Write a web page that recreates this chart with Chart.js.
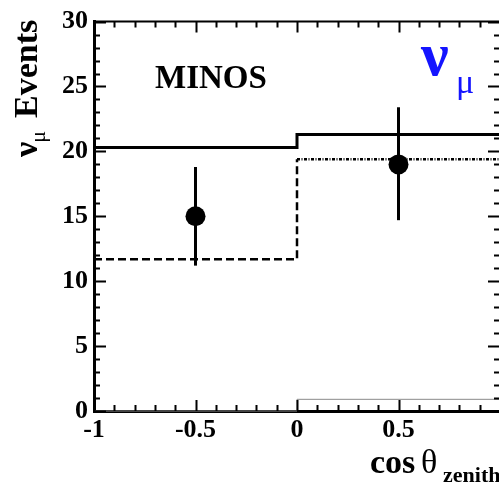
<!DOCTYPE html>
<html>
<head>
<meta charset="utf-8">
<script src="https://cdn.jsdelivr.net/npm/chart.js@4"></script>
<style>
html, body { margin: 0; padding: 0; background: #fff; overflow: hidden; }
</style>
</head>
<body>
<canvas id="c" width="510" height="485"></canvas>
<script>
// histogram bins (cos theta_zenith)
const binEdges = [-1, 0, 1];
const solidCounts = [20.3, 21.3];
const dashedCounts = [11.7, 19.4];
const greyCounts = [0, 0.9];

// data points with errors
const dataX = [-0.5, 0.5];
const dataY = [15, 19];
const errLow = [11.2, 14.7];
const errHigh = [18.8, 23.4];

const xTicks = [-1, -0.5, 0, 0.5, 1];
const yTicks = [0, 5, 10, 15, 20, 25, 30];

const SERIF = "'Liberation Serif', 'DejaVu Serif', serif";

function stepData(counts) {
    const pts = counts.map((c, i) => ({ x: binEdges[i], y: c }));
    pts.push({ x: binEdges[binEdges.length - 1], y: counts[counts.length - 1] });
    return pts;
}

const framePlugin = {
    id: "frame",
    beforeDatasetsDraw(chart) {
        const { ctx } = chart;
        const xs = chart.scales.x, ys = chart.scales.y;
        ctx.save();
        ctx.strokeStyle = "#000";
        ctx.lineWidth = 3;
        dataX.forEach((x, i) => {
            const px = xs.getPixelForValue(x);
            ctx.beginPath();
            ctx.moveTo(px, ys.getPixelForValue(errLow[i]));
            ctx.lineTo(px, ys.getPixelForValue(errHigh[i]));
            ctx.stroke();
        });
        ctx.restore();
    },
    afterDraw(chart) {
        const { ctx, chartArea: a } = chart;
        const xs = chart.scales.x, ys = chart.scales.y;
        ctx.save();
        ctx.strokeStyle = "#000";

        // top and right frame
        ctx.lineWidth = 2;
        ctx.beginPath();
        ctx.moveTo(a.left, a.top);
        ctx.lineTo(a.right, a.top);
        ctx.lineTo(a.right, a.bottom);
        ctx.stroke();

        // inward ticks
        ctx.lineWidth = 2;
        for (let i = 0; i <= 30; i++) {
            const py = Math.round(ys.getPixelForValue(i)) + 0.5;
            const len = i % 5 === 0 ? 12 : 6;
            ctx.beginPath();
            ctx.moveTo(a.left, py); ctx.lineTo(a.left + len, py);
            ctx.moveTo(a.right, py); ctx.lineTo(a.right - len, py);
            ctx.stroke();
        }
        for (let i = -10; i <= 10; i++) {
            const px = Math.round(xs.getPixelForValue(i / 10)) + 0.5;
            const len = i % 5 === 0 ? 11 : 6;
            ctx.beginPath();
            ctx.moveTo(px, a.bottom); ctx.lineTo(px, a.bottom - len);
            ctx.moveTo(px, a.top); ctx.lineTo(px, a.top + len);
            ctx.stroke();
        }

        // MINOS label
        ctx.fillStyle = "#000";
        ctx.font = "bold 33px " + SERIF;
        ctx.textAlign = "left";
        ctx.textBaseline = "alphabetic";
        ctx.fillText("MINOS", 155, 88);

        // nu_mu label
        ctx.fillStyle = "#1414ff";
        ctx.font = "bold 62px " + SERIF;
        ctx.fillText("ν", 421, 75);
        ctx.font = "34px " + SERIF;
        ctx.fillText("μ", 456, 93);

        // y title (rotated)
        ctx.fillStyle = "#000";
        ctx.save();
        ctx.translate(37, 157);
        ctx.rotate(-Math.PI / 2);
        ctx.font = "bold 34px " + SERIF;
        ctx.fillText("ν", 0, 0);
        let w = ctx.measureText("ν").width;
        ctx.font = "22px " + SERIF;
        ctx.fillText("μ", w - 1, 8);
        ctx.font = "bold 34px " + SERIF;
        ctx.fillText("Events", 39, 0);
        ctx.restore();

        // x title
        ctx.font = "bold 34px " + SERIF;
        ctx.fillText("cos", 370, 473);
        ctx.font = "34px " + SERIF;
        ctx.fillText("θ", 421, 473);
        ctx.font = "bold 22px " + SERIF;
        ctx.fillText("zenith", 443, 482);

        ctx.restore();
    }
};

new Chart(document.getElementById("c"), {
    type: "line",
    data: {
        datasets: [
            {
                data: stepData(greyCounts),
                stepped: "before",
                borderColor: "#8a8a8a",
                borderWidth: 1,
                pointRadius: 0
            },
            {
                data: stepData(dashedCounts),
                stepped: "before",
                borderColor: "#000",
                borderWidth: 2.5,
                pointRadius: 0,
                segment: {
                    borderDash: c => c.p0.parsed.x < 0 ? [8, 4] : [3, 1.5, 1, 1.5]
                }
            },
            {
                data: stepData(solidCounts),
                stepped: "before",
                borderColor: "#000",
                borderWidth: 3,
                pointRadius: 0
            },
            {
                data: dataX.map((x, i) => ({ x: x, y: dataY[i] })),
                showLine: false,
                pointRadius: 10,
                pointBackgroundColor: "#000",
                pointBorderColor: "#000",
                pointBorderWidth: 0
            }
        ]
    },
    options: {
        responsive: false,
        animation: false,
        clip: false,
        layout: { padding: { left: 0, right: 6, top: 21, bottom: 0 } },
        plugins: { legend: { display: false }, tooltip: { enabled: false } },
        scales: {
            x: {
                type: "linear",
                min: -1,
                max: 1,
                z: 1,
                afterBuildTicks: s => { s.ticks = xTicks.map(v => ({ value: v })); },
                afterFit: s => { s.height = 74; },
                grid: { display: false, drawTicks: false },
                border: { display: true, color: "#000", width: 3 },
                ticks: {
                    color: "#000",
                    padding: 4,
                    maxRotation: 0,
                    font: { family: SERIF, weight: "bold", size: 26 },
                    callback: v => v === 1 ? "" : String(v)
                }
            },
            y: {
                min: 0,
                max: 30,
                z: 1,
                afterBuildTicks: s => { s.ticks = yTicks.map(v => ({ value: v })); },
                afterFit: s => { s.width = 94; },
                grid: { display: false, drawTicks: false },
                border: { display: true, color: "#000", width: 3 },
                ticks: {
                    color: "#000",
                    padding: 6,
                    font: { family: SERIF, weight: "bold", size: 26 }
                }
            }
        }
    },
    plugins: [framePlugin]
});
</script>
</body>
</html>
